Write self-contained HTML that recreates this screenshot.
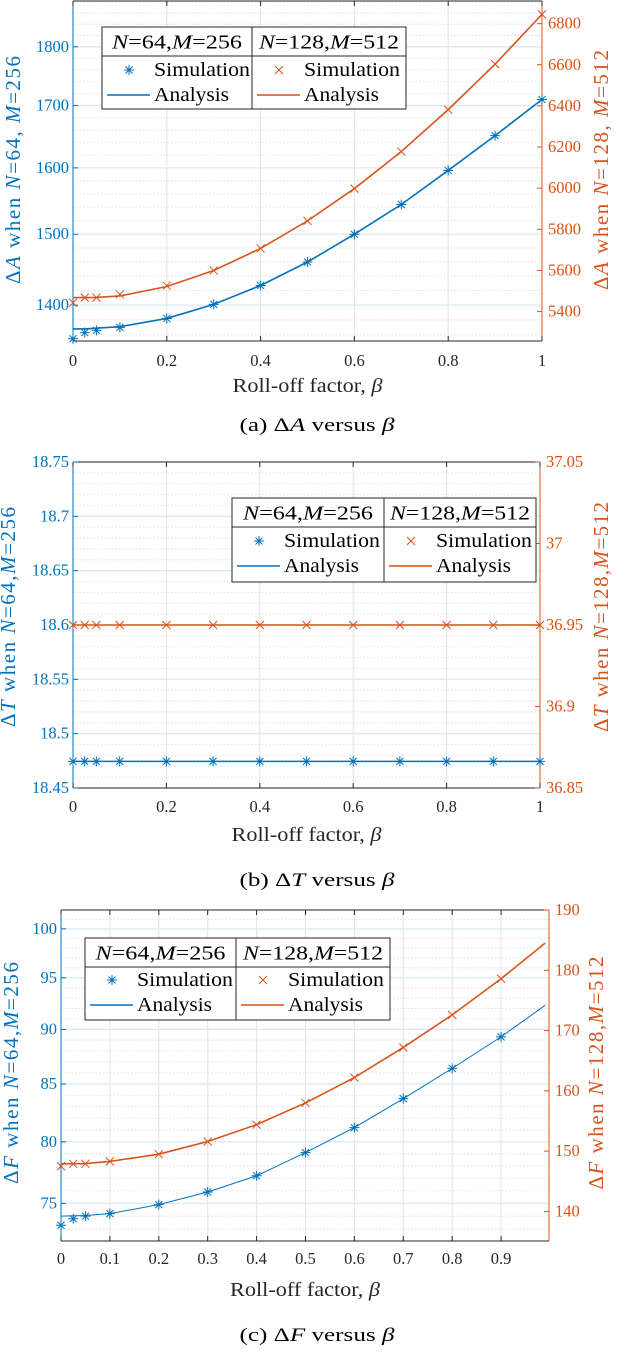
<!DOCTYPE html>
<html><head><meta charset="utf-8">
<style>
html,body{margin:0;padding:0;background:#fff;}
svg{display:block;font-family:"Liberation Serif",serif;}
</style></head>
<body>
<svg id="fig" width="634" height="1368" viewBox="0 0 634 1368" xmlns="http://www.w3.org/2000/svg"></svg>
<script>
// ---- Chart (a) data ----
const aBetas = [0,0.025,0.05,0.1,0.2,0.3,0.4,0.5,0.6,0.7,0.8,0.9,1.0];
const aBlueSim = [1355,1363,1366,1370,1382,1401,1427,1460,1500,1544,1596,1651,1710];
const aBlueAna = [1368,1368,1369,1371,1382,1401,1427,1460,1500,1544,1596,1651,1710];
const aRedSim = [5443,5468,5468,5484,5526,5600,5707,5841,5998,6178,6382,6603,6845];
const aRedAna = [5468,5468,5469,5476,5522,5600,5707,5841,5998,6178,6382,6603,6845];
const aXTicks = [0,0.2,0.4,0.6,0.8,1];
const aXLabels = ["0","0.2","0.4","0.6","0.8","1"];
const aLTicks = [1400,1500,1600,1700,1800];
const aLLabels = ["1400","1500","1600","1700","1800"];
const aRTicks = [5400,5600,5800,6000,6200,6400,6600,6800];
const aRLabels = ["5400","5600","5800","6000","6200","6400","6600","6800"];
// ---- Chart (b) data ----
const bBetas = [0,0.025,0.05,0.1,0.2,0.3,0.4,0.5,0.6,0.7,0.8,0.9,1.0];
const bBlueSim = [18.4745,18.4745,18.4745,18.4745,18.4745,18.4745,18.4745,18.4745,18.4745,18.4745,18.4745,18.4745,18.4745];
const bBlueAna = [18.4745,18.4745,18.4745,18.4745,18.4745,18.4745,18.4745,18.4745,18.4745,18.4745,18.4745,18.4745,18.4745];
const bRedSim = [36.95,36.95,36.95,36.95,36.95,36.95,36.95,36.95,36.95,36.95,36.95,36.95,36.95];
const bRedAna = [36.95,36.95,36.95,36.95,36.95,36.95,36.95,36.95,36.95,36.95,36.95,36.95,36.95];
const bXTicks = [0,0.2,0.4,0.6,0.8,1];
const bXLabels = ["0","0.2","0.4","0.6","0.8","1"];
const bLTicks = [18.45,18.5,18.55,18.6,18.65,18.7,18.75];
const bLLabels = ["18.45","18.5","18.55","18.6","18.65","18.7","18.75"];
const bRTicks = [36.85,36.9,36.95,37,37.05];
const bRLabels = ["36.85","36.9","36.95","37","37.05"];
// ---- Chart (c) data ----
const cBetas = [0,0.025,0.05,0.1,0.2,0.3,0.4,0.5,0.6,0.7,0.8,0.9];
const cBlueSim = [73.3,73.8,74.0,74.2,74.9,75.9,77.2,79.1,81.2,83.7,86.4,89.3];
const cRedSim = [147.5,147.9,147.9,148.3,149.5,151.6,154.4,158.0,162.2,167.2,172.6,178.6];
const cAnaBetas = [0,0.05,0.1,0.2,0.3,0.4,0.5,0.6,0.7,0.8,0.9,0.99];
const cBlueAna = [74.0,74.05,74.2,74.9,75.9,77.2,79.1,81.2,83.7,86.4,89.3,92.3];
const cRedAna = [147.9,147.95,148.3,149.5,151.6,154.4,158.0,162.2,167.2,172.6,178.6,184.5];
const cXTicks = [0,0.1,0.2,0.3,0.4,0.5,0.6,0.7,0.8,0.9];
const cXLabels = ["0","0.1","0.2","0.3","0.4","0.5","0.6","0.7","0.8","0.9"];
const cLTicks = [75,80,85,90,95,100];
const cLLabels = ["75","80","85","90","95","100"];
const cRTicks = [140,150,160,170,180,190];
const cRLabels = ["140","150","160","170","180","190"];

const NS = "http://www.w3.org/2000/svg";
const BLUE = "#0072BD", RED = "#D95319";
const svg = document.getElementById('fig');
function mk(tag, attrs, parent) {
  const e = document.createElementNS(NS, tag);
  for (const k in attrs) e.setAttribute(k, attrs[k]);
  (parent || svg).appendChild(e);
  return e;
}
function linScale(d0, d1, r0, r1) { return v => r0 + (v - d0) / (d1 - d0) * (r1 - r0); }
function logScale(d0, d1, r0, r1) { return v => r0 + Math.log(v / d0) / Math.log(d1 / d0) * (r1 - r0); }
function richText(parent, x, y, parts, attrs) {
  const t = mk('text', Object.assign({x: x, y: y}, attrs), parent);
  parts.forEach(p => {
    const s = mk('tspan', p[1] ? {'font-style': 'italic'} : {}, t);
    s.textContent = p[0];
  });
  return t;
}
function asterisk(g, x, y, c, r) {
  return mk('path', {d: `M${x-r},${y}H${x+r}M${x},${y-r}V${y+r}M${x-r*0.7},${y-r*0.7}L${x+r*0.7},${y+r*0.7}M${x-r*0.7},${y+r*0.7}L${x+r*0.7},${y-r*0.7}`, stroke: c, 'stroke-width': 1, fill: 'none'}, g);
}
function cross(g, x, y, c, r) {
  return mk('path', {d: `M${x-r},${y-r}L${x+r},${y+r}M${x-r},${y+r}L${x+r},${y-r}`, stroke: c, 'stroke-width': 1, fill: 'none'}, g);
}

function drawChart(o) {
  const g = mk('g', {});
  
  
  const L = o.left, R = o.right, T = o.top, B = o.bottom;
  const x = linScale(o.xDom[0], o.xDom[1], L, R);
  const yl = (o.leftLog ? logScale : linScale)(o.lDom[0], o.lDom[1], B, T);
  const yr = linScale(o.rDom[0], o.rDom[1], B, T);
  const gridG = mk('g', {}, g);
  
  
  for (let i = 0; i < o.lTicks.length; i++) {
    const a = o.lTicks[i], st = o.lTicks[1] - o.lTicks[0];
    for (let k = -4; k < 5; k++) {
      if (k === 0) continue;
      if (k < 0 && i !== 0) continue;
      const yy = yl(a + k * st / 5);
      if (yy > T + 1 && yy < B - 1) mk('line', {x1: L, x2: R, y1: yy, y2: yy, stroke: '#cfe0ee', 'stroke-width': 0.8, 'stroke-dasharray': '1.5,2'}, gridG);
    }
  }
  o.xTicks.forEach(v => {
    mk('line', {x1: x(v), x2: x(v), y1: T, y2: B, stroke: '#e3e3e3', 'stroke-width': 1}, gridG);
  });
  o.lTicks.forEach(v => {
    mk('line', {x1: L, x2: R, y1: yl(v), y2: yl(v), stroke: '#dde8f3', 'stroke-width': 1.3}, gridG);
  });
  mk('line', {x1: L, x2: R, y1: T, y2: T, stroke: '#262626', 'stroke-width': 1}, g);
  mk('line', {x1: L, x2: R, y1: B, y2: B, stroke: '#262626', 'stroke-width': 1}, g);
  mk('line', {x1: L, x2: L, y1: T, y2: B, stroke: BLUE, 'stroke-width': 1}, g);
  mk('line', {x1: R, x2: R, y1: T, y2: B, stroke: RED, 'stroke-width': 1}, g);
  o.xTicks.forEach((v, i) => {
    mk('line', {x1: x(v), x2: x(v), y1: B, y2: B - 5, stroke: '#262626'}, g);
    mk('line', {x1: x(v), x2: x(v), y1: T, y2: T + 5, stroke: '#262626'}, g);
    const t = mk('text', {x: x(v), y: o.xLabY, 'text-anchor': 'middle', 'font-size': 16.5, fill: '#262626'}, g);
    
    
    t.textContent = o.xLabels[i];
  });
  o.lTicks.forEach((v, i) => {
    mk('line', {x1: L, x2: L + 5, y1: yl(v), y2: yl(v), stroke: BLUE}, g);
    const t = mk('text', {x: L - 4, y: yl(v) + 5, 'text-anchor': 'end', 'font-size': 16.5, fill: BLUE}, g);
    
    
    t.textContent = o.lLabels[i];
  });
  o.rTicks.forEach((v, i) => {
    mk('line', {x1: R - 5, x2: R, y1: yr(v), y2: yr(v), stroke: RED}, g);
    const t = mk('text', {x: R + 6, y: yr(v) + 5, 'text-anchor': 'start', 'font-size': 16.5, fill: RED}, g);
    
    
    t.textContent = o.rLabels[i];
  });
  const blueLine = mk('polyline', {points: o.blueAnaX.map((b, i) => x(b) + ',' + yl(o.blueAna[i])).join(' '), fill: 'none', stroke: BLUE, 'stroke-width': o.blueW}, g);
  
  
  const redLine = mk('polyline', {points: o.redAnaX.map((b, i) => x(b) + ',' + yr(o.redAna[i])).join(' '), fill: 'none', stroke: RED, 'stroke-width': 1.6}, g);
  
  
  o.betas.forEach((b, i) => {
    const m = asterisk(g, x(b), yl(o.blueSim[i]), BLUE, 5);
    
    
    const c = cross(g, x(b), yr(o.redSim[i]), RED, 4);
    
    
  });
  const lg = mk('g', {}, g);
  
  
  const l = o.leg;
  mk('rect', {x: l.x0, y: l.y0, width: l.x1 - l.x0, height: l.y1 - l.y0, fill: '#fff', stroke: '#262626', 'stroke-width': 1}, lg);
  mk('line', {x1: l.x0, x2: l.x1, y1: l.yh, y2: l.yh, stroke: '#262626'}, lg);
  mk('line', {x1: l.xd, x2: l.xd, y1: l.y0, y2: l.y1, stroke: '#262626'}, lg);
  const hy = (l.y0 + l.yh) / 2 + 7;
  const h1 = richText(lg, (l.x0 + l.xd) / 2, hy, [['N', 1], ['=64,', 0], ['M', 1], ['=256', 0]], {'text-anchor': 'middle', 'font-size': 20, fill: '#000', textLength: 130, lengthAdjust: 'spacingAndGlyphs'});
  
  
  const h2 = richText(lg, (l.xd + l.x1) / 2, hy, [['N', 1], ['=128,', 0], ['M', 1], ['=512', 0]], {'text-anchor': 'middle', 'font-size': 20, fill: '#000', textLength: 140, lengthAdjust: 'spacingAndGlyphs'});
  
  
  [[l.x0, BLUE, 0], [l.xd, RED, 1]].forEach(c => {
    const bx = c[0];
    if (c[2] === 0) asterisk(lg, bx + 27, l.r1, c[1], 5); else cross(lg, bx + 27, l.r1, c[1], 4);
    const s = mk('text', {x: bx + 52, y: l.r1 + 6, 'font-size': 20, fill: '#000', textLength: 96, lengthAdjust: 'spacingAndGlyphs'}, lg);
    
    
    s.textContent = 'Simulation';
    mk('line', {x1: bx + 5, x2: bx + 48, y1: l.r2, y2: l.r2, stroke: c[1], 'stroke-width': 1.6}, lg);
    const a = mk('text', {x: bx + 52, y: l.r2 + 6, 'font-size': 20, fill: '#000', textLength: 75, lengthAdjust: 'spacingAndGlyphs'}, lg);
    
    
    a.textContent = 'Analysis';
  });
  const xl = mk('text', {x: (L + R) / 2, y: o.xTitleY, 'text-anchor': 'middle', 'font-size': 20, fill: '#262626', textLength: 150, lengthAdjust: 'spacingAndGlyphs'}, g);
  
  
  xl.appendChild(document.createTextNode('Roll-off factor, '));
  const bt = mk('tspan', {'font-style': 'italic'}, xl); bt.textContent = 'β';
  const ly = richText(g, 0, 0, o.lTitle, {'text-anchor': 'middle', 'font-size': 21, fill: BLUE, transform: `translate(${o.lTitleX},${o.lTitleY}) rotate(-90)`, textLength: o.lLen, lengthAdjust: 'spacing'});
  
  
  const ry = richText(g, 0, 0, o.rTitle, {'text-anchor': 'middle', 'font-size': 21, fill: RED, transform: `translate(${o.rTitleX},${o.rTitleY}) rotate(-90)`, textLength: o.rLen, lengthAdjust: 'spacing'});
  
  
  const cap = richText(g, 317, o.capY, o.caption, {'text-anchor': 'middle', 'font-size': 19, fill: '#000', textLength: 155, lengthAdjust: 'spacingAndGlyphs'});
  
  
}

drawChart({
  name: 'chart-delta-a', left: 73, right: 542, top: 1, bottom: 341, xDom: [0, 1],
  leftLog: true, lDom: [1352, 1882], rDom: [5257, 6910],
  xTicks: aXTicks, xLabels: aXLabels, lTicks: aLTicks, lLabels: aLLabels, rTicks: aRTicks, rLabels: aRLabels,
  betas: aBetas, blueSim: aBlueSim, redSim: aRedSim, blueAnaX: aBetas, blueAna: aBlueAna, redAnaX: aBetas, redAna: aRedAna, blueW: 1.6,
  leg: {x0: 102, x1: 406, y0: 27, y1: 109, yh: 56, xd: 252, r1: 70, r2: 95},
  xLabY: 366, xTitleY: 392,
  lTitle: [['Δ', 0], ['A', 1], [' when ', 0], ['N', 1], ['=64, ', 0], ['M', 1], ['=256', 0]], lTitleX: 20, lTitleY: 170, lLen: 228,
  rTitle: [['Δ', 0], ['A', 1], [' when ', 0], ['N', 1], ['=128, ', 0], ['M', 1], ['=512', 0]], rTitleX: 608, rTitleY: 170, rLen: 240,
  capY: 431, caption: [['(a) Δ', 0], ['A', 1], [' versus ', 0], ['β', 1]]
});
drawChart({
  name: 'chart-delta-t', left: 73, right: 540, top: 462, bottom: 788, xDom: [0, 1],
  leftLog: false, lDom: [18.45, 18.75], rDom: [36.85, 37.05],
  xTicks: bXTicks, xLabels: bXLabels, lTicks: bLTicks, lLabels: bLLabels, rTicks: bRTicks, rLabels: bRLabels,
  betas: bBetas, blueSim: bBlueSim, redSim: bRedSim, blueAnaX: bBetas, blueAna: bBlueAna, redAnaX: bBetas, redAna: bRedAna, blueW: 1.6,
  leg: {x0: 232, x1: 536, y0: 498, y1: 582, yh: 527, xd: 384, r1: 541, r2: 566},
  xLabY: 812, xTitleY: 841,
  lTitle: [['Δ', 0], ['T', 1], [' when ', 0], ['N', 1], ['=64,', 0], ['M', 1], ['=256', 0]], lTitleX: 15, lTitleY: 617, lLen: 220,
  rTitle: [['Δ', 0], ['T', 1], [' when ', 0], ['N', 1], ['=128,', 0], ['M', 1], ['=512', 0]], rTitleX: 608, rTitleY: 617, rLen: 230,
  capY: 886, caption: [['(b) Δ', 0], ['T', 1], [' versus ', 0], ['β', 1]]
});
drawChart({
  name: 'chart-delta-f', left: 61, right: 549, top: 910, bottom: 1241, xDom: [0, 0.998],
  leftLog: true, lDom: [72.1, 102.0], rDom: [135.1, 190],
  xTicks: cXTicks, xLabels: cXLabels, lTicks: cLTicks, lLabels: cLLabels, rTicks: cRTicks, rLabels: cRLabels,
  betas: cBetas, blueSim: cBlueSim, redSim: cRedSim, blueAnaX: cAnaBetas, blueAna: cBlueAna, redAnaX: cAnaBetas, redAna: cRedAna, blueW: 1,
  leg: {x0: 85, x1: 390, y0: 938, y1: 1020, yh: 967, xd: 236, r1: 980, r2: 1005},
  xLabY: 1264, xTitleY: 1296,
  lTitle: [['Δ', 0], ['F', 1], [' when ', 0], ['N', 1], ['=64,', 0], ['M', 1], ['=256', 0]], lTitleX: 18, lTitleY: 1073, lLen: 222,
  rTitle: [['Δ', 0], ['F', 1], [' when ', 0], ['N', 1], ['=128,', 0], ['M', 1], ['=512', 0]], rTitleX: 603, rTitleY: 1073, rLen: 233,
  capY: 1341, caption: [['(c) Δ', 0], ['F', 1], [' versus ', 0], ['β', 1]]
});
</script>
</body></html>
